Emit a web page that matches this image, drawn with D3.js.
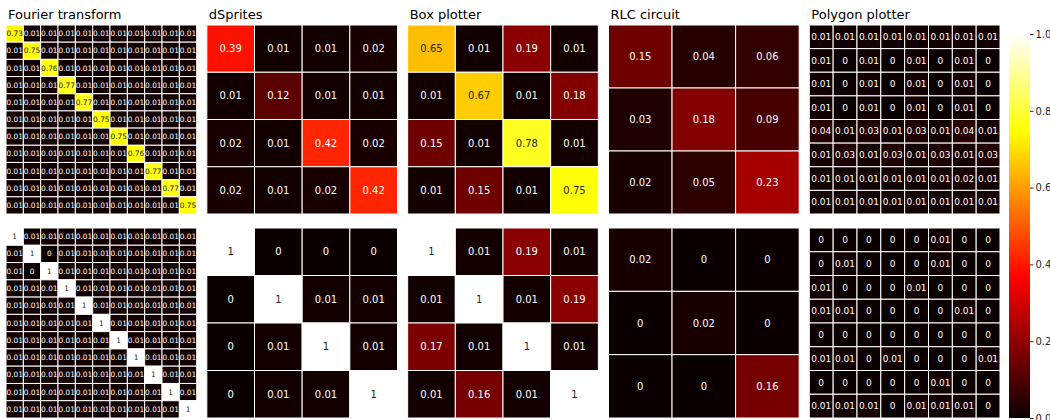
<!DOCTYPE html>
<html>
<head>
<meta charset="utf-8">
<script src="https://cdn.jsdelivr.net/npm/d3@7"></script>
<style>
  body { margin: 0; background: #fff; }
  text { font-family: "DejaVu Sans", sans-serif; }
</style>
</head>
<body>
<svg id="chart" width="1050" height="420"></svg>
<script>
// panel titles
var titles = ["Fourier transform", "dSprites", "Box plotter", "RLC circuit", "Polygon plotter"];

// Fourier transform (11 x 11): diagonal of top matrix, rest 0.01
var fourierDiag = [0.73, 0.75, 0.76, 0.77, 0.77, 0.75, 0.75, 0.76, 0.77, 0.77, 0.75];
var fourierTop = fourierDiag.map(function(d, i) {
  return fourierDiag.map(function(e, j) { return i === j ? d : 0.01; });
});
var fourierBottom = [
  [1, 0.01, 0.01, 0.01, 0.01, 0.01, 0.01, 0.01, 0.01, 0.01, 0.01],
  [0.01, 1, 0, 0.01, 0.01, 0.01, 0.01, 0.01, 0.01, 0.01, 0.01],
  [0.01, 0, 1, 0.01, 0.01, 0.01, 0.01, 0.01, 0.01, 0.01, 0.01],
  [0.01, 0.01, 0.01, 1, 0.01, 0.01, 0.01, 0.01, 0.01, 0.01, 0.01],
  [0.01, 0.01, 0.01, 0.01, 1, 0.01, 0.01, 0.01, 0.01, 0.01, 0.01],
  [0.01, 0.01, 0.01, 0.01, 0.01, 1, 0.01, 0.01, 0.01, 0.01, 0.01],
  [0.01, 0.01, 0.01, 0.01, 0.01, 0.01, 1, 0.01, 0.01, 0.01, 0.01],
  [0.01, 0.01, 0.01, 0.01, 0.01, 0.01, 0.01, 1, 0.01, 0.01, 0.01],
  [0.01, 0.01, 0.01, 0.01, 0.01, 0.01, 0.01, 0.01, 1, 0.01, 0.01],
  [0.01, 0.01, 0.01, 0.01, 0.01, 0.01, 0.01, 0.01, 0.01, 1, 0.01],
  [0.01, 0.01, 0.01, 0.01, 0.01, 0.01, 0.01, 0.01, 0.01, 0.01, 1]
];

var dspritesTop = [
  [0.39, 0.01, 0.01, 0.02],
  [0.01, 0.12, 0.01, 0.01],
  [0.02, 0.01, 0.42, 0.02],
  [0.02, 0.01, 0.02, 0.42]
];
var dspritesBottom = [
  [1, 0, 0, 0],
  [0, 1, 0.01, 0.01],
  [0, 0.01, 1, 0.01],
  [0, 0.01, 0.01, 1]
];

var boxTop = [
  [0.65, 0.01, 0.19, 0.01],
  [0.01, 0.67, 0.01, 0.18],
  [0.15, 0.01, 0.78, 0.01],
  [0.01, 0.15, 0.01, 0.75]
];
var boxBottom = [
  [1, 0.01, 0.19, 0.01],
  [0.01, 1, 0.01, 0.19],
  [0.17, 0.01, 1, 0.01],
  [0.01, 0.16, 0.01, 1]
];

var rlcTop = [
  [0.15, 0.04, 0.06],
  [0.03, 0.18, 0.09],
  [0.02, 0.05, 0.23]
];
var rlcBottom = [
  [0.02, 0, 0],
  [0, 0.02, 0],
  [0, 0, 0.16]
];

var polygonTop = [
  [0.01, 0.01, 0.01, 0.01, 0.01, 0.01, 0.01, 0.01],
  [0.01, 0, 0.01, 0, 0.01, 0, 0.01, 0],
  [0.01, 0, 0.01, 0, 0.01, 0, 0.01, 0],
  [0.01, 0, 0.01, 0, 0.01, 0, 0.01, 0],
  [0.04, 0.01, 0.03, 0.01, 0.03, 0.01, 0.04, 0.01],
  [0.01, 0.03, 0.01, 0.03, 0.01, 0.03, 0.01, 0.03],
  [0.01, 0.01, 0.01, 0.01, 0.01, 0.01, 0.02, 0.01],
  [0.01, 0.01, 0.01, 0.01, 0.01, 0.01, 0.01, 0.01]
];
var polygonBottom = [
  [0, 0, 0, 0, 0, 0.01, 0, 0],
  [0, 0.01, 0, 0, 0, 0.01, 0, 0],
  [0.01, 0, 0, 0, 0.01, 0, 0, 0],
  [0.01, 0.01, 0, 0, 0, 0, 0.01, 0],
  [0, 0, 0, 0, 0, 0, 0, 0],
  [0.01, 0.01, 0, 0.01, 0, 0, 0, 0.01],
  [0, 0, 0, 0, 0, 0.01, 0, 0],
  [0.01, 0.01, 0.01, 0, 0.01, 0.01, 0.01, 0]
];

var colorbarTicks = [0, 0.2, 0.4, 0.6, 0.8, 1.0];

var panels = [
  {top: fourierTop, bottom: fourierBottom, fontSize: 7.4},
  {top: dspritesTop, bottom: dspritesBottom, fontSize: 10},
  {top: boxTop, bottom: boxBottom, fontSize: 10},
  {top: rlcTop, bottom: rlcBottom, fontSize: 10},
  {top: polygonTop, bottom: polygonBottom, fontSize: 9}
];

var svg = d3.select("#chart");

// matplotlib "hot" colormap, vmin 0 / vmax 1
var color = d3.scaleLinear()
    .domain([0, 0.365079, 0.746032, 1])
    .range(["rgb(11,0,0)", "rgb(255,0,0)", "rgb(255,255,0)", "rgb(255,255,255)"])
    .clamp(true);

function textColor(v) {
  var c = d3.rgb(color(v));
  function lin(u) { u = u / 255; return u <= 0.03928 ? u / 12.92 : Math.pow((u + 0.055) / 1.055, 2.4); }
  var lum = 0.2126 * lin(c.r) + 0.7152 * lin(c.g) + 0.0722 * lin(c.b);
  return lum > 0.408 ? "#262626" : "#ffffff";
}

function fmt(v) { return v === 1 ? "1" : v === 0 ? "0" : d3.format(".2f")(v); }

var panelX = d3.scaleBand().domain(d3.range(panels.length)).range([6, 1000]).paddingInner(0.0505);
var rowsY = {top: [25, 214], bottom: [228, 418]};

function drawMatrix(g, m, x0, w, yr, fs) {
  var n = m.length;
  var x = d3.scaleBand().domain(d3.range(n)).range([x0, x0 + w]);
  var y = d3.scaleBand().domain(d3.range(n)).range(yr);
  var cells = [];
  m.forEach(function(row, i) {
    row.forEach(function(v, j) { cells.push({i: i, j: j, v: v}); });
  });
  var cg = g.selectAll(null).data(cells).enter().append("g");
  cg.append("rect")
    .attr("x", function(d) { return x(d.j); })
    .attr("y", function(d) { return y(d.i); })
    .attr("width", x.bandwidth())
    .attr("height", y.bandwidth())
    .attr("fill", function(d) { return color(d.v); })
    .attr("stroke", "#fff")
    .attr("stroke-width", 1);
  cg.append("text")
    .attr("x", function(d) { return x(d.j) + x.bandwidth() / 2; })
    .attr("y", function(d) { return y(d.i) + y.bandwidth() / 2; })
    .attr("dy", "0.35em")
    .attr("text-anchor", "middle")
    .attr("font-size", fs)
    .attr("fill", function(d) { return textColor(d.v); })
    .text(function(d) { return fmt(d.v); });
}

panels.forEach(function(p, k) {
  var g = svg.append("g");
  var x0 = panelX(k), w = panelX.bandwidth();
  g.append("text")
    .attr("x", x0 + 2)
    .attr("y", 19)
    .attr("font-size", 13)
    .attr("fill", "#000")
    .text(titles[k]);
  drawMatrix(g, p.top, x0, w, rowsY.top, p.fontSize);
  drawMatrix(g, p.bottom, x0, w, rowsY.bottom, p.fontSize);
});

// colorbar
var cbY = d3.scaleLinear().domain([0, 1]).range([418, 34]);
var defs = svg.append("defs");
var grad = defs.append("linearGradient")
    .attr("id", "cbgrad")
    .attr("x1", 0).attr("y1", 1).attr("x2", 0).attr("y2", 0);
grad.selectAll("stop")
  .data(color.domain())
  .enter().append("stop")
  .attr("offset", function(d) { return d; })
  .attr("stop-color", function(d) { return color(d); });

svg.append("rect")
  .attr("x", 1009)
  .attr("y", cbY(1))
  .attr("width", 21)
  .attr("height", cbY(0) - cbY(1))
  .attr("fill", "url(#cbgrad)");

var cbAxis = svg.append("g")
  .attr("transform", "translate(1030,0)")
  .call(d3.axisRight(cbY).tickValues(colorbarTicks).tickFormat(d3.format(".1f")).tickSize(3.5).tickPadding(2));
cbAxis.select(".domain").remove();
cbAxis.selectAll("text").attr("font-size", 10).attr("fill", "#262626").attr("font-family", "DejaVu Sans, sans-serif");
cbAxis.selectAll("line").attr("stroke", "#262626");
</script>
</body>
</html>
